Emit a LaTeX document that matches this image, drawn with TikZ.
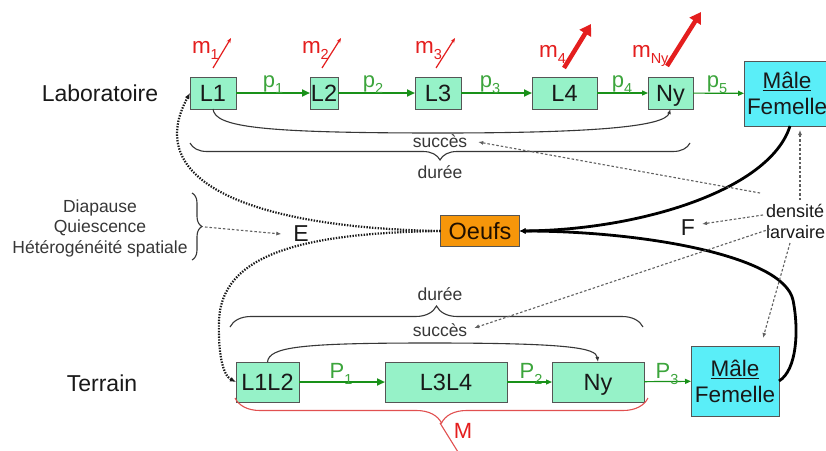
\documentclass[tikz,border=0pt]{standalone}
\usepackage{fontspec}
\setmainfont{Liberation Sans}
\usetikzlibrary{arrows.meta,decorations.pathreplacing}
\definecolor{boxgreen}{RGB}{150,242,200}
\definecolor{boxcyan}{RGB}{90,238,248}
\definecolor{boxorange}{RGB}{246,150,10}
\definecolor{arrgreen}{RGB}{25,145,25}
\definecolor{labgreen}{RGB}{60,165,60}
\definecolor{myred}{RGB}{228,30,30}
\definecolor{bracered}{RGB}{225,80,80}
\definecolor{bordergray}{RGB}{85,85,85}
\definecolor{txt}{RGB}{25,25,25}
\definecolor{softtxt}{RGB}{55,55,55}
\definecolor{dashgray}{RGB}{95,95,95}
\newcommand{\lowsub}[1]{\raisebox{-0.3em}{\fontsize{14.5}{14.5}\selectfont #1}}
\begin{document}
\begin{tikzpicture}[x=1pt,y=-1pt,
  every node/.style={inner sep=0pt,outer sep=0pt,text=txt},
  gbox/.style={draw=bordergray,fill=boxgreen,line width=0.8pt,font=\fontsize{23.5}{26}\selectfont,text height=16.8pt,text depth=0pt},
  cbox/.style={draw=bordergray,fill=boxcyan,line width=0.8pt,font=\fontsize{22.5}{26}\selectfont,align=center},
  obox/.style={draw=bordergray,fill=boxorange,line width=0.8pt,font=\fontsize{23.5}{26}\selectfont,text=black!80!orange!60!black,text height=16.8pt,text depth=0pt},
  gthick/.style={draw=arrgreen,line width=2.8pt,-{Triangle[length=8pt,width=7pt]}},
  gthin/.style={draw=arrgreen,line width=1.2pt,-{Triangle[length=6pt,width=5pt]}},
  plab/.style={text=labgreen,font=\fontsize{22}{22}\selectfont,anchor=base},
  mlab/.style={text=myred,font=\fontsize{22.5}{22.5}\selectfont,anchor=base west},
  rthin/.style={draw=myred,line width=1.2pt,-{Stealth[length=5pt,width=4pt]}},
  rthick/.style={draw=myred,line width=4.5pt,-{Triangle[length=11pt,width=13pt]}},
  smalltxt/.style={text=softtxt,font=\fontsize{17.5}{20.5}\selectfont},
  bigtxt/.style={font=\fontsize{23}{26}\selectfont},
  bracestyle/.style={draw=softtxt,line width=1.1pt,decorate},
  dotarr/.style={draw=black!90,line width=2.2pt,dash pattern=on 1.4pt off 1.4pt,-{Latex[length=6pt,width=5pt]}},
  dasharr/.style={draw=dashgray,line width=1.1pt,dash pattern=on 2.5pt off 2pt,-{Latex[length=5pt,width=4pt]}},
  bcurve/.style={draw=black,line width=2.8pt,-{Latex[length=6pt,width=6pt]}}
]
\fill[white] (0,0) rectangle (826,450);
\useasboundingbox (0,0) rectangle (826,450);

% ---- labels of rows
\node[bigtxt] (lab) at (100,93) {Laboratoire};
\node[bigtxt] (terr) at (102,383) {Terrain};

% ---- top row boxes
\node[gbox,minimum width=46pt,minimum height=32pt] (L1) at (213,93) {L1};
\node[gbox,minimum width=28pt,minimum height=32pt] (L2) at (324,93) {L2};
\node[gbox,minimum width=46pt,minimum height=32pt] (L3) at (438,93) {L3};
\node[gbox,minimum width=65pt,minimum height=32pt] (L4) at (564.5,93) {L4};
\node[gbox,minimum width=45pt,minimum height=32pt] (Ny) at (670.5,93) {Ny};
\node[cbox,minimum width=86pt,minimum height=65pt] (MF1) at (787,93.5) {\underline{Mâle}\\Femelle};

% ---- bottom row boxes
\node[gbox,minimum width=63pt,minimum height=40pt] (L12) at (267.5,382) {L1L2};
\node[gbox,minimum width=122pt,minimum height=40pt] (L34) at (446,382) {L3L4};
\node[gbox,minimum width=92pt,minimum height=40pt] (Ny2) at (598,382) {Ny};
\node[cbox,minimum width=88pt,minimum height=70pt] (MF2) at (735,381) {\underline{Mâle}\\Femelle};

% ---- eggs
\node[obox,minimum width=79pt,minimum height=31pt] (Oe) at (480,231) {Oeufs};

% ---- green transitions
\draw[gthick] (L1) -- (L2);
\draw[gthick] (L2) -- (L3);
\draw[gthick] (L3) -- (L4);
\draw[gthin] (L4) -- (Ny);
\draw[gthin] (Ny) -- (MF1);
\draw[gthick] (L12) -- (L34);
\draw[gthin] (L34) -- (Ny2);
\draw[gthin] (Ny2) -- (MF2);

\node[plab] (p1) at (273,87) {p\lowsub{1}};
\node[plab] (p2) at (373,87) {p\lowsub{2}};
\node[plab] (p3) at (490,87) {p\lowsub{3}};
\node[plab] (p4) at (622,87) {p\lowsub{4}};
\node[plab] (p5) at (717,87) {p\lowsub{5}};
\node[plab] (P1) at (341,378) {P\lowsub{1}};
\node[plab] (P2) at (531,378) {P\lowsub{2}};
\node[plab] (P3) at (667,378) {P\lowsub{3}};

% ---- mortality labels
\node[mlab] (m1) at (192,53) {m\lowsub{1}};
\node[mlab] (m2) at (302,53) {m\lowsub{2}};
\node[mlab] (m3) at (415,53) {m\lowsub{3}};
\node[mlab] (m4) at (539,57) {m\lowsub{4}};
\node[mlab] (mNy) at (632,57) {m\lowsub{Ny}};
\coordinate (a1s) at (213,68); \coordinate (a1e) at (231,38);
\coordinate (a2s) at (322,68); \coordinate (a2e) at (341,38);
\coordinate (a3s) at (436,68); \coordinate (a3e) at (455,38);
\coordinate (a4s) at (564,68); \coordinate (a4e) at (591,24);
\coordinate (a5s) at (667,66); \coordinate (a5e) at (701,12);
\draw[rthin] (a1s) -- (a1e);
\draw[rthin] (a2s) -- (a2e);
\draw[rthin] (a3s) -- (a3e);
\draw[rthick] (a4s) -- (a4e);
\draw[rthick] (a5s) -- (a5e);

% ---- succes / duree (top)
\draw[draw=softtxt,line width=1.1pt,-{Latex[length=5pt,width=4pt]}] (L1.south) .. controls (215,127) and (260,133) .. (440,133) .. controls (600,133) and (665,126) .. (Ny.south);
\node[smalltxt] (suc1) at (440,141) {succès};
\draw[bracestyle,decoration={brace,amplitude=17pt}] (690,143) -- (190,143);
\node[smalltxt] (dur1) at (440,172) {durée};

% ---- succes / duree (bottom)
\node[smalltxt] (dur2) at (440,294) {durée};
\draw[bracestyle,decoration={brace,amplitude=21pt}] (230,327) -- (643,327);
\node[smalltxt] (suc2) at (440,330) {succès};
\draw[draw=softtxt,line width=1.1pt,-{Latex[length=5pt,width=4pt]}] (L12.north) .. controls (269,347) and (300,343) .. (430,343) .. controls (570,343) and (596,348) .. (Ny2.north);

% ---- M brace
\draw[bracestyle,draw=bracered,decoration={brace,amplitude=25pt}] (648,398) -- (235,398);
\coordinate (mt) at (440,423);
\coordinate (mb) at (458,452);
\draw[draw=bracered,line width=1.1pt] (mt) -- (mb);
\node[text=myred,font=\fontsize{22}{22}\selectfont] (M) at (463,431) {M};

% ---- left causes
\node[smalltxt,align=center] (diap) at (100,228) {Diapause\\Quiescence\\Hétérogénéité spatiale};
\draw[bracestyle,decoration={brace,amplitude=10pt}] (192,193) -- (192,260);
\node[font=\fontsize{23}{23}\selectfont] (E) at (301,234) {E};
\coordinate (bt) at (205,227);
\draw[dasharr] (bt) -- ([xshift=-12pt]E.west);

% ---- eggs to larvae
\draw[dotarr] (Oe.west) .. controls (260,228) and (140,185) .. (L1.west);
\draw[dotarr] (Oe.west) .. controls (300,233) and (222,255) .. (219,320) .. controls (218,350) and (222,375) .. (L12.west);

% ---- adults to eggs
\draw[bcurve] ([xshift=3pt]MF1.south) .. controls (770,190) and (640,230) .. (Oe.east);
\draw[bcurve] (MF2.east) .. controls (797,370) and (799,330) .. (793,300) .. controls (783,255) and (640,231) .. (Oe.east);

% ---- larval density
\node[anchor=west,align=left,font=\fontsize{18}{21}\selectfont] (dens) at (766,221) {densité\\larvaire};
\node[font=\fontsize{23}{23}\selectfont] (F) at (688,228) {F};
\coordinate (d1) at (760,193);
\coordinate (d2) at (800,200);
\coordinate (d3) at (763,215);
\coordinate (d4) at (770,229);
\coordinate (d5) at (790,243);
\draw[dasharr] (d1) -- ([xshift=11pt,yshift=-1pt]suc1.east);
\draw[dasharr] (d2) -- ([xshift=13pt,yshift=-4pt]MF1.south);
\draw[dasharr] (d3) -- ([xshift=7pt,yshift=4pt]F.east);
\draw[dasharr] (d4) -- ([xshift=7pt,yshift=2pt]suc2.east);
\draw[dasharr] (d5) -- ([xshift=28pt,yshift=8pt]MF2.north);
\end{tikzpicture}
\end{document}
